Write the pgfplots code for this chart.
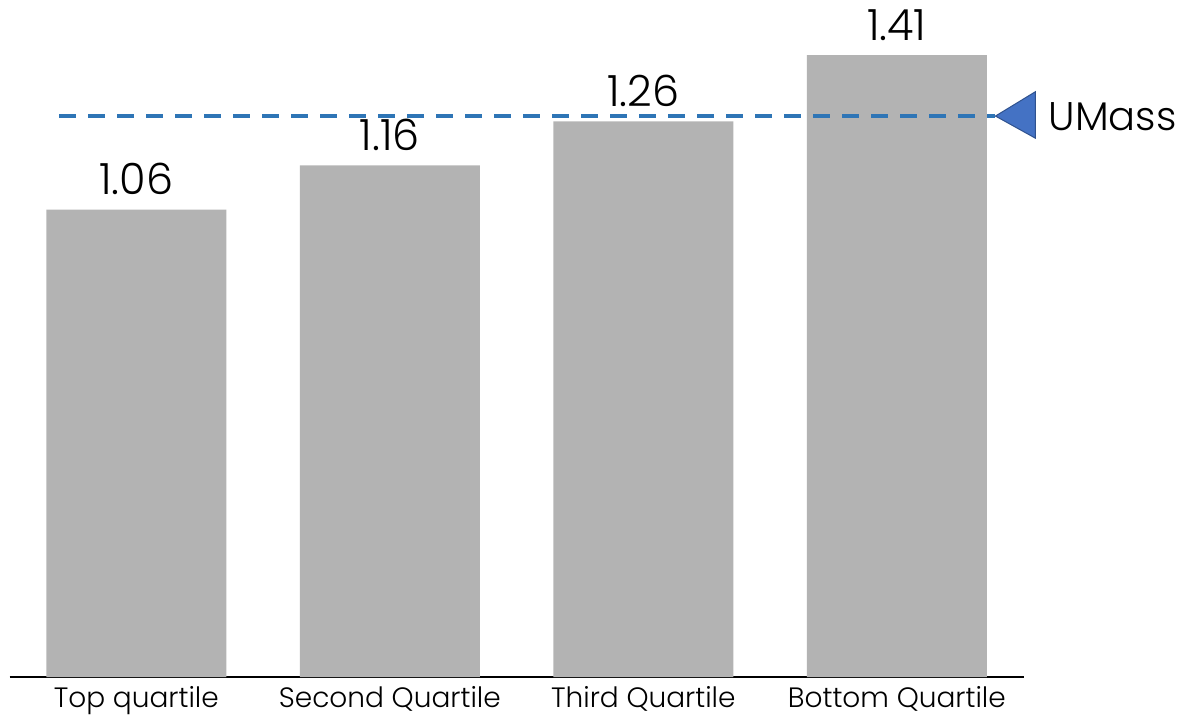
\documentclass[border=0pt]{standalone}
\usepackage{pgfplots}
\pgfplotsset{compat=1.18}
\usepackage{fontspec}
\setmainfont{Poppins Light}
\definecolor{bargray}{HTML}{B3B3B3}
\definecolor{dashblue}{HTML}{2E75B6}
\definecolor{triblue}{HTML}{4472C4}
\definecolor{triedge}{HTML}{2F528F}
\begin{document}
\begin{tikzpicture}
\begin{axis}[
  name=ax,
  scale only axis, width=507pt, height=330.75pt,
  xmin=-0.5, xmax=3.5, ymin=0, ymax=1.5,
  axis x line*=bottom, axis y line=none,
  x axis line style={line width=1pt, black, -},
  xtick={0,1,2,3},
  xticklabels={Top quartile, Second Quartile, Third Quartile, Bottom Quartile},
  major tick length=0pt,
  xticklabel style={font=\fontsize{14}{16}\selectfont, anchor=base, yshift=-15pt, inner sep=0pt},
  ytick=\empty,
  clip=false,
]
\addplot[ybar, bar width=90pt, fill=bargray, draw=none,
  nodes near coords={\pgfmathprintnumber[fixed,fixed zerofill,precision=2,assume math mode=true]{\pgfplotspointmeta}},
  nodes near coords style={font=\fontsize{21.5}{24}\selectfont, anchor=base, yshift=7.5pt, inner sep=0pt, black}]
  coordinates {(0,1.06) (1,1.16) (2,1.26) (3,1.41)};
\addplot[dashblue, line width=2pt, dash pattern=on 8.5pt off 6pt] coordinates {(-0.304,1.272) (3.389,1.272)};
\addplot[fill=triblue, draw=triedge, line width=0.5pt] coordinates {(3.389,1.272) (3.546,1.327) (3.546,1.222)} -- cycle;
\node[anchor=base west, inner sep=0pt, font=\fontsize{20}{24}\selectfont] at (axis cs:3.597,1.240) {UMass};
\end{axis}
\pgfresetboundingbox
\path[use as bounding box] ([shift={(-4.78pt,-23.5pt)}]ax.south west) rectangle ([shift={(585.7pt,338.5pt)}]ax.south west);
\end{tikzpicture}
\end{document}
